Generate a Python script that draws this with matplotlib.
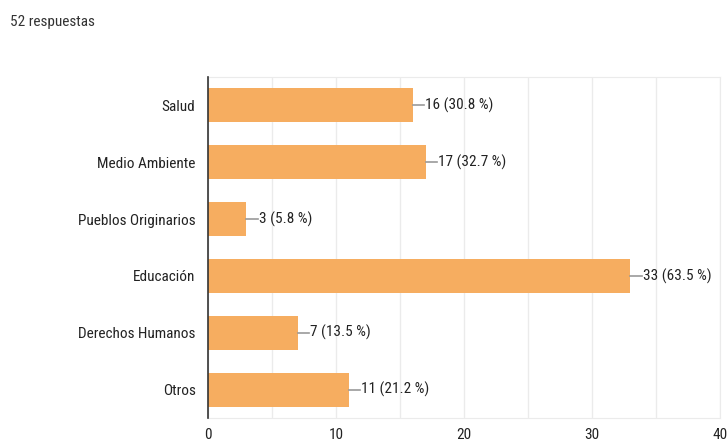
import matplotlib
matplotlib.use("Agg")
import matplotlib.pyplot as plt
from matplotlib import font_manager as fm

categories = ["Salud", "Medio Ambiente", "Pueblos Originarios", "Educación", "Derechos Humanos", "Otros"]
counts = [16, 17, 3, 33, 7, 11]
percents = [30.8, 32.7, 5.8, 63.5, 13.5, 21.2]
total_label = "52 respuestas"
xticks = [0, 10, 20, 30, 40]

names = {f.name for f in fm.fontManager.ttflist}
fam = "Roboto"
for cand in ["Roboto Condensed", "Archivo Narrow", "PT Sans Narrow", "Liberation Sans Narrow"]:
    if cand in names:
        fam = cand
        break
plt.rcParams['font.family'] = [fam, 'DejaVu Sans']

FS = 11
W, H = 728, 445
fig = plt.figure(figsize=(W / 100, H / 100), dpi=100)
left, right, top, bottom = 208, 720, 77, 418
ax = fig.add_axes([left / W, 1 - bottom / H, (right - left) / W, (bottom - top) / H])

ypos = list(range(len(categories)))
bar_color = "#f6ad60"
ax.barh(ypos, counts, height=0.6, color=bar_color, zorder=3)
ax.set_ylim(len(categories) - 0.5, -0.5)
ax.set_xlim(0, 40)

ax.set_yticks(ypos)
ax.set_yticklabels(categories, fontsize=FS, color="#222222")
ax.set_xticks(xticks)
ax.set_xticklabels([str(t) for t in xticks], fontsize=FS, color="#222222")
ax.set_xticks([5, 15, 25, 35], minor=True)
ax.tick_params(axis='both', length=0, which='both')
ax.tick_params(axis='y', pad=9)
ax.tick_params(axis='x', pad=7)
ax.grid(axis='x', which='both', color="#ebebeb", linewidth=1, zorder=0)

for s in ['top', 'right', 'bottom']:
    ax.spines[s].set_color("#ebebeb")
ax.spines['left'].set_color("#333333")
ax.spines['left'].set_linewidth(1.2)
ax.spines['left'].set_zorder(4)

for y, c, p in zip(ypos, counts, percents):
    ax.plot([c, c + 0.9], [y, y], color="#999999", linewidth=1.2, zorder=4, clip_on=False)
    ax.text(c + 0.95, y, f"{c} ({p} %)", va='center', ha='left', fontsize=FS, color="#222222")

fig.text(10 / W, 1 - 22 / H, total_label, fontsize=FS, color="#333333", va='center', ha='left')

fig.savefig("out.png", dpi=100, facecolor="white")
